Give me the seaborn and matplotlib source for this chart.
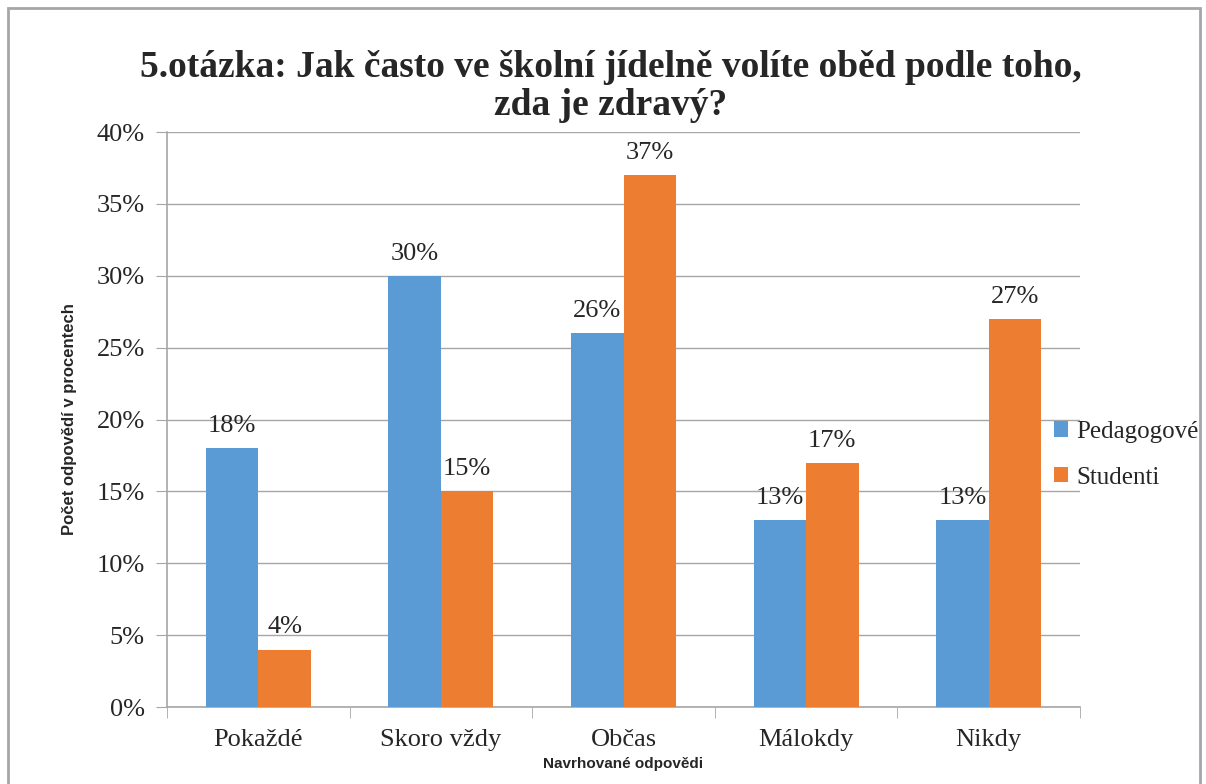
import matplotlib
matplotlib.use('Agg')
import matplotlib.pyplot as plt
import pandas as pd
import seaborn as sns
from matplotlib.ticker import PercentFormatter, FixedLocator

categories = ['Pokaždé', 'Skoro vždy', 'Občas', 'Málokdy', 'Nikdy']
pedagogove = [18, 30, 26, 13, 13]
studenti = [4, 15, 37, 17, 27]
series = ['Pedagogové', 'Studenti']

df = pd.DataFrame({
    'Odpověď': categories * 2,
    'Skupina': [series[0]] * 5 + [series[1]] * 5,
    'Procenta': pedagogove + studenti,
})

sns.set_style('white')
plt.rcParams['font.family'] = ['Liberation Serif', 'DejaVu Serif']

fig = plt.figure(figsize=(12.06, 7.84), dpi=100)
ax = fig.add_axes([0.1385, 0.0982, 0.757, 0.7334])

sns.barplot(data=df, x='Odpověď', y='Procenta', hue='Skupina',
            palette=['#5B9BD5', '#ED7D31'], width=0.575, saturation=1,
            linewidth=0, ax=ax, zorder=3)

for cont in ax.containers:
    ax.bar_label(cont, fmt='%g%%', padding=8, fontsize=19)

ax.set_ylim(0, 40)
ax.set_xlim(-0.5, 4.5)
ax.yaxis.set_major_locator(FixedLocator(range(0, 41, 5)))
ax.yaxis.set_major_formatter(PercentFormatter(decimals=0))
ax.grid(axis='y', color='#A6A6A6', linewidth=1, zorder=0)
ax.tick_params(axis='y', labelsize=19, length=8, color='#A6A6A6', left=True, pad=8)
ax.tick_params(axis='x', which='major', labelsize=19, length=0, pad=16)
ax.set_xticks([i + 0.5 for i in range(-1, 5)], minor=True)
ax.tick_params(axis='x', which='minor', length=8, color='#A6A6A6', bottom=True)

for s in ['top', 'right']:
    ax.spines[s].set_visible(False)
for s in ['left', 'bottom']:
    ax.spines[s].set_color('#A6A6A6')
    ax.spines[s].set_linewidth(1.2)

sans = ['Liberation Sans Narrow', 'Liberation Sans', 'DejaVu Sans']
ax.set_xlabel('Navrhované odpovědi', family=sans, fontweight='bold', fontsize=11, labelpad=4)
ax.set_ylabel('Počet odpovědí v procentech', family=sans, fontweight='bold', fontsize=12, labelpad=14)

ax.set_title('5.otázka: Jak často ve školní jídelně volíte oběd podle toho,\nzda je zdravý?',
             fontsize=27, fontweight='bold', pad=12, linespacing=1.12, x=0.486)

ax.legend(loc='center left', bbox_to_anchor=(0.874, 0.42), bbox_transform=fig.transFigure,
          frameon=False, fontsize=18, handlelength=0.55, handleheight=0.55,
          handletextpad=0.35, labelspacing=0.95, borderaxespad=0, borderpad=0)

fig.patches.append(plt.Rectangle((0.007, -0.01), 0.988, 1.0, transform=fig.transFigure,
                                 fill=False, edgecolor='#A6A6A6', linewidth=2))

fig.savefig('out.png', dpi=100)
